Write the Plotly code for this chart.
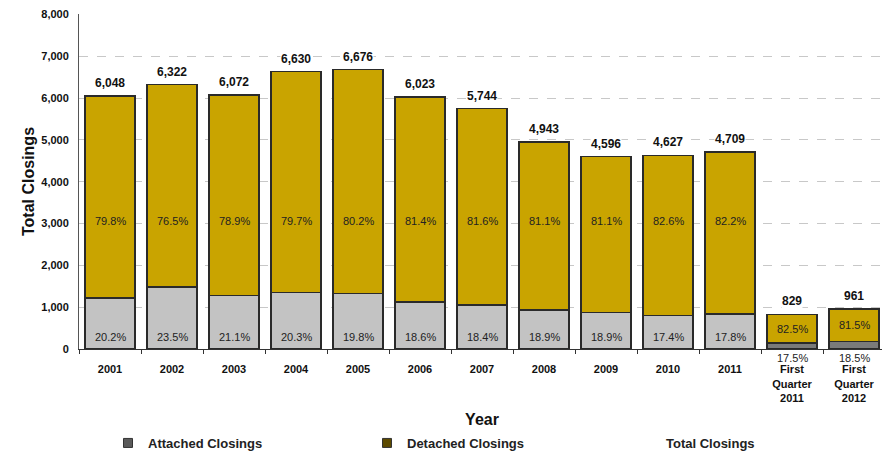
import plotly.graph_objects as go

categories = ["2001", "2002", "2003", "2004", "2005", "2006", "2007", "2008",
              "2009", "2010", "2011", "First<br>Quarter<br>2011", "First<br>Quarter<br>2012"]
totals = [6048, 6322, 6072, 6630, 6676, 6023, 5744, 4943, 4596, 4627, 4709, 829, 961]
attached = [1222, 1486, 1281, 1346, 1322, 1120, 1057, 934, 869, 805, 838, 145, 178]
detached = [4826, 4836, 4791, 5284, 5354, 4903, 4687, 4009, 3727, 3822, 3871, 684, 783]
attached_pct = ["20.2%", "23.5%", "21.1%", "20.3%", "19.8%", "18.6%", "18.4%", "18.9%",
                "18.9%", "17.4%", "17.8%", "17.5%", "18.5%"]
detached_pct = ["79.8%", "76.5%", "78.9%", "79.7%", "80.2%", "81.4%", "81.6%", "81.1%",
                "81.1%", "82.6%", "82.2%", "82.5%", "81.5%"]

FONT = "Liberation Sans, Arial, sans-serif"
GOLD = "#C9A400"
GRAY = "#C3C3C3"
EDGE = "#2a2a2a"

# page body has an 8px margin, so the figure is 8px smaller than the window
W, H = 882, 447

n = len(categories)
small = [t < 2000 for t in totals]
att_colors = ["#7a7a7a" if s else GRAY for s in small]

fig = go.Figure()
fig.add_trace(go.Bar(x=categories, y=attached, marker=dict(color=att_colors, line=dict(color=EDGE, width=1.5)),
                     showlegend=False, hoverinfo="skip"))
fig.add_trace(go.Bar(x=categories, y=detached, marker=dict(color=GOLD, line=dict(color=EDGE, width=1.5)),
                     showlegend=False, hoverinfo="skip"))

# legend entries (no visible data)
fig.add_trace(go.Scatter(x=[categories[0]], y=[None], mode="markers", name="Attached Closings",
                         marker=dict(symbol="square", size=9, color="#5a5a5a", line=dict(color="#333", width=1))))
fig.add_trace(go.Scatter(x=[categories[0]], y=[None], mode="markers", name="Detached Closings",
                         marker=dict(symbol="square", size=9, color="#5c4a00", line=dict(color="#333", width=1))))
fig.add_trace(go.Scatter(x=[categories[0]], y=[None], mode="lines", name="Total Closings",
                         line=dict(width=0, color="rgba(0,0,0,0)")))

annotations = []
for i in range(n):
    annotations.append(dict(x=i, y=totals[i], text=f"{totals[i]:,}", showarrow=False,
                            yshift=13, font=dict(family=FONT, size=12, color="#111", weight="bold"),
                            bgcolor="white", borderpad=0))
    if small[i]:
        dy = attached[i] + detached[i] / 2
        annotations.append(dict(x=i, y=0, yref="paper", yanchor="top", yshift=-1, text=attached_pct[i],
                                showarrow=False, font=dict(family=FONT, size=11, color="#222")))
    else:
        dy = 3050
        annotations.append(dict(x=i, y=290, text=attached_pct[i], showarrow=False,
                                font=dict(family=FONT, size=11, color="#222")))
    annotations.append(dict(x=i, y=dy, text=detached_pct[i], showarrow=False,
                            font=dict(family=FONT, size=11, color="#222")))

fig.update_layout(
    width=W, height=H,
    margin=dict(l=71, r=5, t=6, b=106, autoexpand=False),
    barmode="stack", bargap=0.19,
    plot_bgcolor="white", paper_bgcolor="white",
    font=dict(family=FONT, color="#111"),
    annotations=annotations,
    legend=dict(orientation="h", xref="container", yref="container",
                x=100 / W, xanchor="left", y=1 - 435 / H, yanchor="middle",
                entrywidth=214, entrywidthmode="pixels", itemwidth=30, traceorder="normal",
                font=dict(family=FONT, size=13, color="#222", weight="bold")),
)
fig.update_xaxes(
    type="category", range=[-0.5, n - 0.5], autorange=False, automargin=False,
    showline=True, linecolor="#333", linewidth=1,
    ticks="outside", tickson="boundaries", ticklen=4, tickcolor="#333",
    ticklabelstandoff=10,
    tickfont=dict(family=FONT, size=11, color="#111", weight="bold"),
    title=dict(text="Year", font=dict(family=FONT, size=16, color="#111", weight="bold"), standoff=12),
)
fig.update_yaxes(
    range=[0, 8008], autorange=False, automargin=False, tick0=0, dtick=1000, tickformat=",",
    showline=True, linecolor="#555", linewidth=1,
    showgrid=True, gridcolor="#c8c8c8", griddash="dash", gridwidth=1, zeroline=False,
    ticks="", ticklabelstandoff=7, ticklabeloverflow="allow",
    tickfont=dict(family=FONT, size=11, color="#111", weight="bold"),
    title=dict(text="Total Closings", font=dict(family=FONT, size=16, color="#111", weight="bold"), standoff=2),
)

fig.write_html("out.html")
